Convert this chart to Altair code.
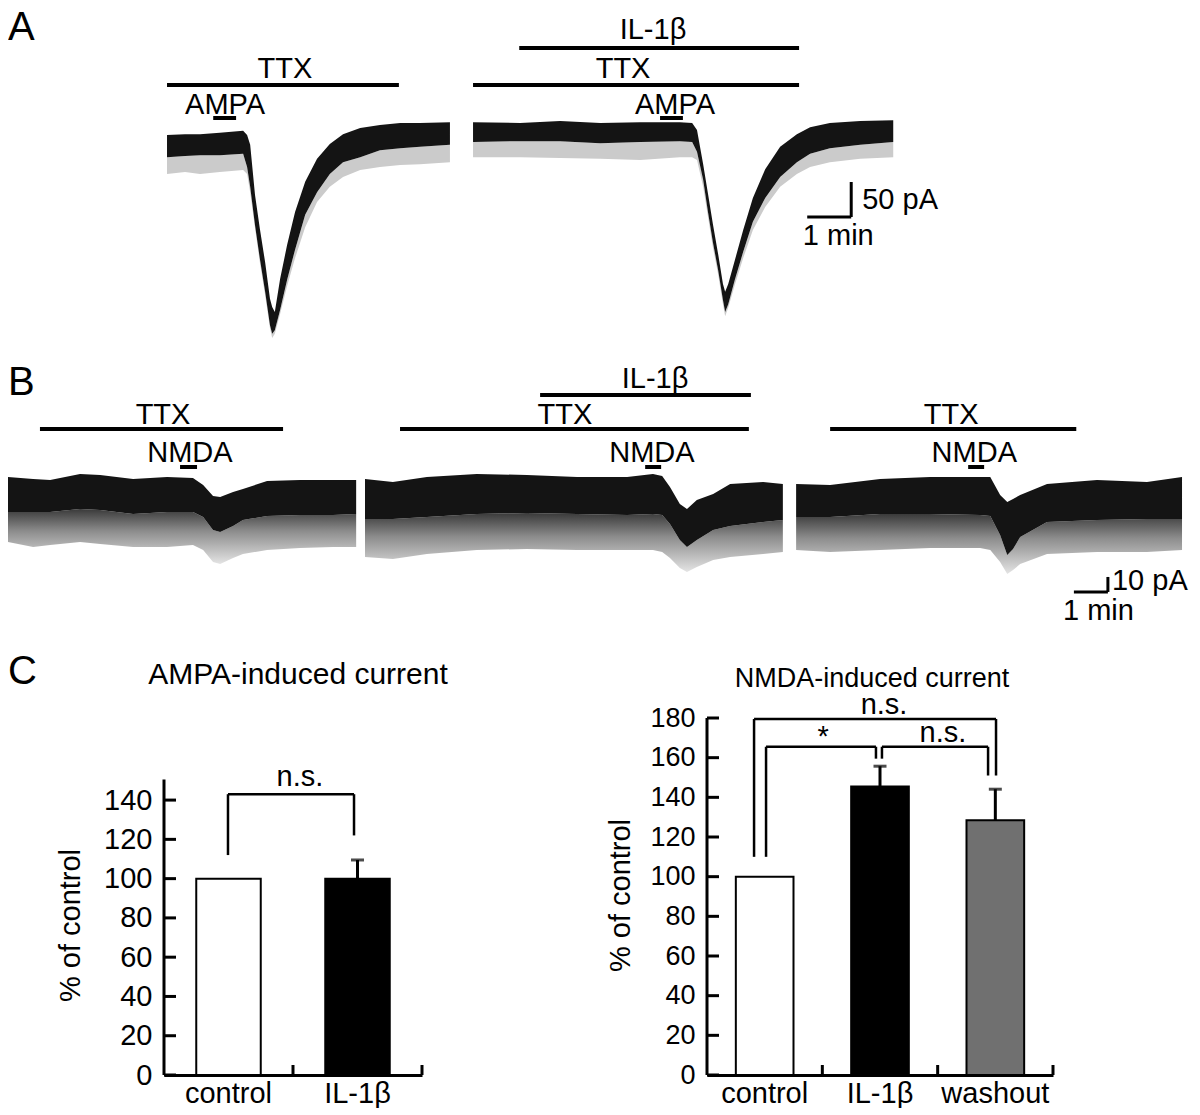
import altair as alt
import pandas as pd

FONT = "Liberation Sans"

# ================= DATA =================
# Panel A traces: time (min from trace start), upper edge of the dense band,
# lower edge of the dense band, lower tip of the noise (pA, relative to holding level)
a1_t = [0.00, 0.41, 0.75, 1.20, 1.73, 1.82, 1.89, 2.00, 2.11, 2.23, 2.34, 2.39, 2.45,
        2.57, 2.73, 2.91, 3.14, 3.41, 3.70, 4.00, 4.39, 4.84, 5.30, 5.75, 6.43]
a1_hi = [13, 14, 14, 16, 19, 13, -1, -73, -121, -169, -221, -233, -240,
         -193, -144, -97, -54, -21, 0, 14, 23, 27, 30, 30, 31]
a1_lo = [-19, -17, -16, -16, -14, -33, -61, -116, -164, -211, -259, -271, -266,
         -237, -194, -151, -101, -69, -43, -26, -19, -9, -6, -4, -1]
a1_tip = [-43, -40, -43, -40, -37, -43, -69, -120, -169, -216, -263, -277, -271,
          -243, -203, -163, -119, -83, -61, -47, -37, -33, -30, -29, -26]

a2_t = [0.00, 1.07, 1.98, 2.89, 3.80, 4.70, 4.98, 5.09, 5.23, 5.34, 5.45, 5.57, 5.68,
        5.73, 5.80, 5.95, 6.14, 6.36, 6.64, 6.98, 7.36, 7.66, 8.11, 8.80, 9.55]
a2_hi = [31, 30, 33, 30, 31, 31, 30, 20, -29, -71, -114, -157, -200,
         -211, -200, -166, -123, -77, -36, -4, 14, 24, 30, 33, 34]
a2_lo = [3, 4, 4, 1, 3, 4, 3, -11, -51, -97, -140, -180, -223,
         -240, -229, -194, -154, -111, -77, -47, -26, -14, -6, -1, 3]
a2_tip = [-19, -19, -20, -21, -23, -19, -19, -23, -61, -104, -147, -186, -229,
          -246, -234, -201, -163, -123, -90, -61, -43, -33, -26, -21, -19]

# Panel B traces (NMDA)
b1_t = [0.00, 0.74, 1.24, 2.12, 2.71, 3.68, 4.68, 5.44, 5.74, 6.03, 6.24, 6.62, 6.91, 7.62, 8.59, 9.56, 10.24]
b1_hi = [13.3, 12.0, 11.3, 15.3, 14.7, 12.0, 13.3, 12.7, 8.0, 0.7, 0.0, 3.3, 5.3, 10.7, 11.3, 11.3, 11.3]
b1_lo = [-10.0, -10.0, -10.0, -8.0, -8.7, -11.3, -10.0, -10.0, -13.3, -22.0, -23.3, -19.3, -15.3, -12.7, -12.0, -12.0, -11.3]
b1_tip = [-30.0, -33.3, -32.0, -30.0, -31.3, -33.3, -33.3, -32.0, -35.3, -43.3, -44.7, -40.7, -38.0, -35.3, -34.0, -33.3, -33.3]

b2_t = [0.00, 0.82, 1.82, 3.29, 4.76, 6.24, 7.71, 8.47, 8.74, 8.97, 9.26, 9.47, 9.76, 10.24, 10.74, 11.71, 12.29]
b2_hi = [12.0, 10.0, 13.3, 15.3, 14.7, 13.3, 13.3, 15.3, 14.0, 6.7, -4.7, -8.0, -2.0, 2.0, 8.7, 10.0, 8.7]
b2_lo = [-14.7, -14.7, -13.3, -11.3, -10.7, -11.3, -12.0, -11.3, -12.0, -18.0, -28.7, -33.3, -28.7, -22.0, -19.3, -16.7, -15.3]
b2_tip = [-40.0, -41.3, -38.0, -35.3, -34.7, -35.3, -35.3, -35.3, -36.7, -40.7, -47.3, -50.0, -46.7, -42.0, -40.0, -38.0, -36.7]

b3_t = [0.00, 1.00, 2.47, 3.94, 5.41, 5.71, 6.00, 6.21, 6.38, 6.59, 7.38, 8.85, 10.32, 11.35]
b3_hi = [8.7, 8.0, 12.0, 13.3, 13.3, 13.3, 1.3, -3.3, -1.3, 1.3, 8.7, 11.3, 10.0, 13.3]
b3_lo = [-13.3, -13.3, -11.3, -11.3, -12.0, -12.7, -25.3, -38.7, -34.7, -26.7, -16.7, -15.3, -14.7, -14.7]
b3_tip = [-35.3, -36.7, -35.3, -34.0, -34.0, -35.3, -43.3, -51.3, -48.7, -44.7, -38.0, -36.7, -36.7, -35.3]

# Drug applications (label, start min, end min), per trace
a1_drugs = [("TTX", 0.00, 5.27), ("AMPA", 1.05, 1.57)]
a2_drugs = [("IL-1β", 1.05, 7.41), ("TTX", 0.00, 7.41), ("AMPA", 4.25, 4.77)]
b1_drugs = [("TTX", 0.94, 8.09), ("NMDA", 5.06, 5.56)]
b2_drugs = [("IL-1β", 5.15, 11.35), ("TTX", 1.03, 11.29), ("NMDA", 8.24, 8.71)]
b3_drugs = [("TTX", 1.00, 8.24), ("NMDA", 5.06, 5.53)]

# Panel C: % of control (mean, s.e.m.)
ampa_cats = ["control", "IL-1β"]
ampa_mean = [100, 100]
ampa_sem = [0, 9.5]
nmda_cats = ["control", "IL-1β", "washout"]
nmda_mean = [100, 145.5, 128.5]
nmda_sem = [0, 10.2, 15.6]

# ================= LAYOUT / STYLE =================
W = 1184
BLACK = "#141414"

# Row A: 44 px per min, 0.7 px per pA
A_H, A_PXMIN, A_PXPA, A_X0, A_YTOP = 342, 44.0, 0.7, -3.614, 191.4
A_OFF = [0.0, 6.955]
A_LEVEL = {"TTX": 84.3, "IL-1β": 137.1, "AMPA": 37.1}
A_TEXT_Y = {"TTX": 94.3, "IL-1β": 150.0, "AMPA": 42.9}
A_LABEL_T = [{"TTX": 2.68, "AMPA": 1.32}, {"IL-1β": 4.09, "TTX": 3.41, "AMPA": 4.59}]
A_SCALE = dict(x0=14.55, min_len=1.0, y0=-104.3, pa_len=50.0,
               pa_text=(15.80, -92.9), min_text=(14.45, -144.3))

# Row B: 34 px per min, 1.5 px per pA
B_H, B_PXMIN, B_PXPA, B_X0, B_YTOP = 366, 34.0, 1.5, 0.0, 96.67
B_OFF = [0.0, 10.5, 23.18]
B_LEVEL = {"TTX": 45.3, "IL-1β": 68.0, "NMDA": 20.0}
B_TEXT_Y = {"TTX": 48.7, "IL-1β": 72.7, "NMDA": 23.3}
B_LABEL_T = [{"TTX": 4.56, "NMDA": 5.35}, {"IL-1β": 8.53, "TTX": 5.88, "NMDA": 8.44},
             {"TTX": 4.56, "NMDA": 5.24}]
B_SCALE = dict(x0=31.35, min_len=1.0, y0=-63.3, pa_len=10.0,
               pa_text=(32.47, -62.0), min_text=(31.03, -82.0))

C_H = 357


def trace_df(parts):
    frames = []
    for i, (t, hi, lo, tip, off) in enumerate(parts):
        frames.append(pd.DataFrame({"t": [v + off for v in t], "hi": hi, "lo": lo,
                                    "tip": tip, "trace": f"tr{i}"}))
    return pd.concat(frames, ignore_index=True)


def drug_dfs(drug_lists, offsets, levels, text_y, label_t):
    bars, labs = [], []
    for drugs, off, lt in zip(drug_lists, offsets, label_t):
        for name, s, e in drugs:
            bars.append({"start": s + off, "end": e + off, "level": levels[name]})
            labs.append({"label": name, "lt": lt[name] + off, "ly": text_y[name]})
    return pd.DataFrame(bars), pd.DataFrame(labs)


def trace_row(tr, bars, labs, sc, letter, letter_y, H, pxmin, pxpa, x0, ytop, fringe_color):
    xs = alt.Scale(domain=[x0, x0 + W / pxmin], nice=False, zero=False)
    ys = alt.Scale(domain=[ytop - H / pxpa, ytop], nice=False, zero=False)

    def X(f):
        return alt.X(f, type="quantitative", scale=xs, axis=None)

    def Y(f):
        return alt.Y(f, type="quantitative", scale=ys, axis=None, stack=None)

    fringe = alt.Chart(tr).mark_area(color=fringe_color, interpolate="linear").encode(
        x=X("t"), y=Y("lo"), y2=alt.Y2("tip"), detail="trace:N")
    band = alt.Chart(tr).mark_area(color=BLACK, interpolate="linear").encode(
        x=X("t"), y=Y("hi"), y2=alt.Y2("lo"), detail="trace:N")
    drug = alt.Chart(bars).mark_rule(strokeWidth=4, color="black").encode(
        x=X("start"), x2=alt.X2("end"), y=Y("level"))
    lab = alt.Chart(labs).mark_text(font=FONT, fontSize=29, align="center",
                                    baseline="alphabetic", color="black").encode(
        x=X("lt"), y=Y("ly"), text="label:N")
    x1 = sc["x0"] + sc["min_len"]
    sb = pd.DataFrame({"x": [sc["x0"], x1], "x2": [x1, x1],
                       "y": [sc["y0"], sc["y0"]], "y2": [sc["y0"], sc["y0"] + sc["pa_len"]]})
    sbar = alt.Chart(sb).mark_rule(strokeWidth=3, color="black").encode(
        x=X("x"), x2=alt.X2("x2"), y=Y("y"), y2=alt.Y2("y2"))
    sbt = pd.DataFrame({"s": [f"{int(sc['pa_len'])} pA", "1 min"],
                        "x": [sc["pa_text"][0], sc["min_text"][0]],
                        "y": [sc["pa_text"][1], sc["min_text"][1]]})
    sbtxt = alt.Chart(sbt).mark_text(font=FONT, fontSize=29, align="left",
                                     baseline="alphabetic", color="black").encode(
        x=X("x"), y=Y("y"), text="s:N")
    let = alt.Chart(pd.DataFrame({"s": [letter]})).mark_text(
        font=FONT, fontSize=40, align="left", baseline="alphabetic", color="black").encode(
        x=alt.value(0), y=alt.value(letter_y), text="s:N")
    return alt.layer(fringe, band, drug, lab, sbar, sbtxt, let).properties(width=W, height=H)


def bar_panel(cats, means, sems, fills, ydom, axis_top, yticks, brackets, texts,
              title, title_pos, title_size, ytitle_pos, width, tick_font, letter=None):
    n = len(cats)
    H = C_H
    df = pd.DataFrame({"cat": cats, "mean": means,
                       "top": [m + s for m, s in zip(means, sems)], "fill": fills})
    xs = alt.Scale(domain=cats, paddingInner=0.5, paddingOuter=0.25)
    ys = alt.Scale(domain=[0, ydom], nice=False, zero=True)
    xax = alt.Axis(title=None, labelAngle=0, ticks=False, domain=True, domainWidth=3,
                   domainColor="black", grid=False, labelFont=FONT, labelFontSize=29,
                   labelColor="black", labelPadding=4)
    yax = alt.Axis(title="% of control", values=yticks, ticks=False, domain=False, grid=False,
                   labelFont=FONT, labelFontSize=tick_font, labelColor="black", labelPadding=12,
                   titleFont=FONT, titleFontSize=29, titleFontWeight="normal",
                   titleColor="black", titleAngle=270, titleBaseline="middle",
                   titleX=ytitle_pos[0], titleY=ytitle_pos[1])
    XB = alt.X("cat:N", scale=xs, axis=xax)

    def YQ(f):
        return alt.Y(f, type="quantitative", scale=ys, axis=yax, title="% of control")

    bars = alt.Chart(df).mark_bar(stroke="black", strokeWidth=2).encode(
        x=XB, y=YQ("mean"), fill=alt.Fill("fill:N", scale=None))
    err = alt.Chart(df).transform_filter("datum.top > datum.mean").mark_rule(
        strokeWidth=3, color="black").encode(x=XB, y=YQ("mean"), y2="top:Q")
    cap = alt.Chart(df).transform_filter("datum.top > datum.mean").mark_tick(
        size=13, thickness=3, color="black").encode(x=XB, y=YQ("top"))

    slot = alt.Scale(domain=[0, n], nice=False, zero=False)
    yline = alt.Chart(pd.DataFrame({"a": [0], "b": [axis_top]})).mark_rule(
        strokeWidth=3, color="black").encode(
        x=alt.value(0), y=YQ("a"), y2="b:Q")
    ytk = alt.Chart(pd.DataFrame({"v": yticks})).mark_rule(
        strokeWidth=3, color="black").encode(
        x=alt.value(0), x2=alt.value(12), y=YQ("v"))
    xtk = alt.Chart(pd.DataFrame({"s": list(range(1, n + 1))})).mark_rule(
        strokeWidth=3, color="black").encode(
        x=alt.X("s:Q", scale=slot, axis=None), y=alt.value(H), y2=alt.value(H - 10))
    segs = []
    for xl, xr, top, bl, br in brackets:
        segs.append({"x": xl, "x2": xl, "y": bl, "y2": top})
        segs.append({"x": xl, "x2": xr, "y": top, "y2": top})
        segs.append({"x": xr, "x2": xr, "y": br, "y2": top})
    brk = alt.Chart(pd.DataFrame(segs)).mark_rule(strokeWidth=2.5, color="black").encode(
        x=alt.X("x:Q", scale=slot, axis=None), x2="x2:Q", y=YQ("y"), y2="y2:Q")
    txt = alt.Chart(pd.DataFrame(texts, columns=["s", "x", "y"])).mark_text(
        font=FONT, fontSize=29, align="center", baseline="alphabetic", color="black").encode(
        x=alt.X("x:Q", scale=slot, axis=None), y=YQ("y"), text="s:N")
    ttl = alt.Chart(pd.DataFrame({"s": [title]})).mark_text(
        font=FONT, fontSize=title_size, align="center", baseline="alphabetic", color="black").encode(
        x=alt.value(title_pos[0]), y=alt.value(title_pos[1]), text="s:N")
    ann = [yline, ytk, xtk, brk, txt, ttl]
    if letter is not None:
        ann.append(alt.Chart(pd.DataFrame({"s": [letter]})).mark_text(
            font=FONT, fontSize=40, align="left", baseline="alphabetic", color="black").encode(
            x=alt.value(-156), y=alt.value(-34), text="s:N"))
    return alt.layer(alt.layer(bars, err, cap), alt.layer(*ann)).resolve_scale(
        x="independent").properties(width=width, height=H)


# ---- Row A ----
trA = trace_df([(a1_t, a1_hi, a1_lo, a1_tip, A_OFF[0]), (a2_t, a2_hi, a2_lo, a2_tip, A_OFF[1])])
barsA, labsA = drug_dfs([a1_drugs, a2_drugs], A_OFF, A_LEVEL, A_TEXT_Y, A_LABEL_T)
rowA = trace_row(trA, barsA, labsA, A_SCALE, "A", 30, A_H, A_PXMIN, A_PXPA, A_X0, A_YTOP,
                 "#cbcbcb")

# ---- Row B ----
trB = trace_df([(b1_t, b1_hi, b1_lo, b1_tip, B_OFF[0]), (b2_t, b2_hi, b2_lo, b2_tip, B_OFF[1]),
                (b3_t, b3_hi, b3_lo, b3_tip, B_OFF[2])])
barsB, labsB = drug_dfs([b1_drugs, b2_drugs, b3_drugs], B_OFF, B_LEVEL, B_TEXT_Y, B_LABEL_T)
fringeB = alt.Gradient(gradient="linear", x1=0, x2=0, y1=0, y2=1,
                       stops=[alt.GradientStop(color="#3a3a3a", offset=0),
                              alt.GradientStop(color="#8c8c8c", offset=0.4),
                              alt.GradientStop(color="#e4e4e4", offset=1)])
rowB = trace_row(trB, barsB, labsB, B_SCALE, "B", 43, B_H, B_PXMIN, B_PXPA, B_X0, B_YTOP, fringeB)

# ---- Row C ----
left = bar_panel(ampa_cats, ampa_mean, ampa_sem, ["white", "black"], 181.8, 150.5,
                 [0, 20, 40, 60, 80, 100, 120, 140],
                 [(0.496, 1.473, 143, 112, 122)],
                 [("n.s.", 1.054, 147)],
                 "AMPA-induced current", (134, -34), 30, (-94, 207), 258, 29, letter="C")
right = bar_panel(nmda_cats, nmda_mean, nmda_sem, ["white", "black", "#707070"], 180, 180,
                  [0, 20, 40, 60, 80, 100, 120, 140, 160, 180],
                  [(0.408, 2.506, 179.5, 110, 151), (0.512, 1.465, 165.5, 110, 159.5),
                   (1.517, 2.437, 165.5, 159.5, 151)],
                  [("n.s.", 1.535, 182), ("*", 1.006, 166), ("n.s.", 2.046, 168)],
                  "NMDA-induced current", (165, -31), 27, (-87, 177), 346, 27)

sp1 = alt.Chart(pd.DataFrame({"z": [0]})).mark_point(opacity=0).properties(width=156, height=C_H)
sp2 = alt.Chart(pd.DataFrame({"z": [0]})).mark_point(opacity=0).properties(width=285, height=C_H)
rowC = alt.hconcat(sp1, left, sp2, right, spacing=0, bounds="flush")

chart = alt.vconcat(rowA, rowB, rowC, spacing=0, bounds="flush").properties(
    padding=0, background="white").configure_view(strokeWidth=0)

chart.save("out.html", embed_options={"renderer": "svg", "actions": False})
